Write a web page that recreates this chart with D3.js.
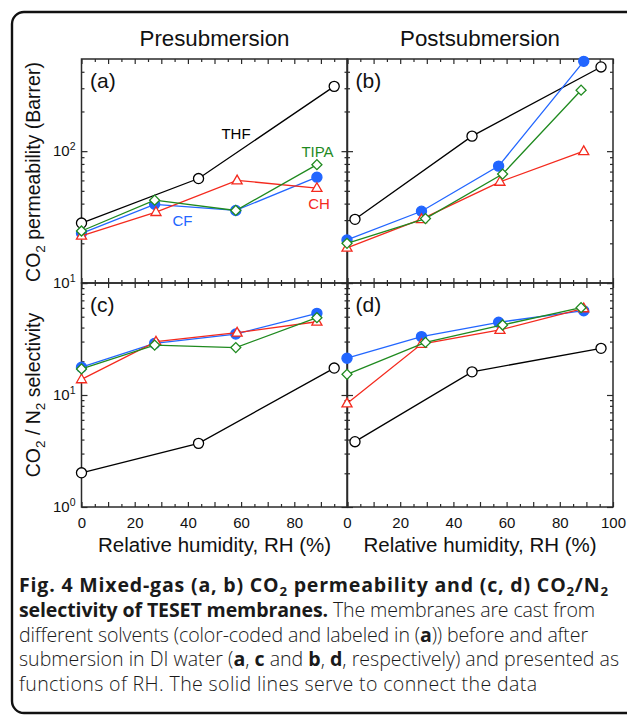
<!DOCTYPE html>
<html><head><meta charset="utf-8">
<script src="https://cdn.jsdelivr.net/npm/d3@7"></script>
<style>body{margin:0;background:#fff;} svg{display:block;}</style>
</head><body>
<svg id="c" width="627" height="715"></svg>
<script>
// ---------------- DATA ----------------
const solvents = ["THF", "CF", "CH", "TIPA"];
const panelTitles = ["Presubmersion", "Postsubmersion"];
const panelLetters = ["(a)", "(b)", "(c)", "(d)"];

// relative humidity (%) for each series
const preRH_THF  = [0, 44, 95];
const preRH_CF   = [0, 27.5, 58, 88.5];
const preRH_CH   = [0, 28, 58.5, 88.5];
const preRH_TIPA = [0, 27.5, 58, 88.5];
const postRH_THF  = [3, 47, 95.5];
const postRH_CF   = [0, 28, 57, 89];
const postRH_CH   = [0, 28, 57.5, 89];
const postRH_TIPA = [0, 29.5, 58.5, 88];

// (a) CO2 permeability, presubmersion (Barrer)
const permPre_THF  = [28.5, 62, 310];
const permPre_CF   = [23.8, 39.5, 35.5, 63.5];
const permPre_CH   = [22.8, 34.5, 60, 52.5];
const permPre_TIPA = [24.8, 42.5, 35.5, 79];
// (b) CO2 permeability, postsubmersion (Barrer)
const permPost_THF  = [30.4, 130, 435];
const permPost_CF   = [21.2, 35, 77, 480];
const permPost_CH   = [18.5, 30.5, 58.5, 100];
const permPost_TIPA = [20, 30.8, 67, 290];
// (c) CO2/N2 selectivity, presubmersion
const selPre_THF  = [2.02, 3.7, 17.4];
const selPre_CF   = [17.7, 28.9, 35, 53.6];
const selPre_CH   = [13.8, 29.9, 36, 45.1];
const selPre_TIPA = [17.1, 27.9, 26.5, 49];
// (d) CO2/N2 selectivity, postsubmersion
const selPost_THF  = [3.83, 16.1, 26.1];
const selPost_CF   = [21.3, 33.2, 44.6, 56.6];
const selPost_CH   = [8.4, 28.5, 38.1, 59.4];
const selPost_TIPA = [15.3, 29.5, 42.2, 60.2];

// tick labels
const xTickLabelsLeft  = [0, 20, 40, 60, 80];
const xTickLabelsRight = [0, 20, 40, 60, 80, 100];
const yTickExpTop = [1, 2];
const yTickExpBottom = [0, 1];

// ---------------- STYLE / LAYOUT ----------------
const colors = {THF: "#000000", CF: "#2266ff", CH: "#f42a1e", TIPA: "#1f8a1f"};
const chartFont = "'Liberation Sans', Arial, Helvetica, sans-serif";
const axisColor = "#2a2a2a";

const svg = d3.select("#c");

// outer rounded frame
svg.append("rect").attr("x", 12).attr("y", 12).attr("width", 640).attr("height", 701)
  .attr("rx", 12).attr("fill", "none").attr("stroke", "#111").attr("stroke-width", 2.4);

const xLeft  = d3.scaleLinear().domain([0, 100]).range([81.5, 347.5]);
const xRight = d3.scaleLinear().domain([0, 100]).range([347, 613]);
const yTop = d3.scaleLog().domain([10, 500]).range([283, 59]);
const yBot = d3.scaleLog().domain([1, 100]).range([507, 283]);

function seriesFor(rh, vals) { return rh.map((r, i) => ({rh: r, v: vals[i]})); }

const panels = [
  {x: xLeft, y: yTop, letter: panelLetters[0], series: {
    THF: seriesFor(preRH_THF, permPre_THF), CF: seriesFor(preRH_CF, permPre_CF),
    CH: seriesFor(preRH_CH, permPre_CH), TIPA: seriesFor(preRH_TIPA, permPre_TIPA)}},
  {x: xRight, y: yTop, letter: panelLetters[1], series: {
    THF: seriesFor(postRH_THF, permPost_THF), CF: seriesFor(postRH_CF, permPost_CF),
    CH: seriesFor(postRH_CH, permPost_CH), TIPA: seriesFor(postRH_TIPA, permPost_TIPA)}},
  {x: xLeft, y: yBot, letter: panelLetters[2], xLabels: xTickLabelsLeft, series: {
    THF: seriesFor(preRH_THF, selPre_THF), CF: seriesFor(preRH_CF, selPre_CF),
    CH: seriesFor(preRH_CH, selPre_CH), TIPA: seriesFor(preRH_TIPA, selPre_TIPA)}},
  {x: xRight, y: yBot, letter: panelLetters[3], xLabels: xTickLabelsRight, series: {
    THF: seriesFor(postRH_THF, selPost_THF), CF: seriesFor(postRH_CF, selPost_CF),
    CH: seriesFor(postRH_CH, selPost_CH), TIPA: seriesFor(postRH_TIPA, selPost_TIPA)}},
];

function minorLogTicks(y) {
  const [a, b] = y.domain();
  const out = [];
  for (let e = Math.floor(Math.log10(a)); e <= Math.ceil(Math.log10(b)); e++) {
    for (let m = 2; m <= 9; m++) { const v = m * Math.pow(10, e); if (v > a && v < b) out.push(v); }
  }
  return out;
}
function majorLogTicks(y) {
  const [a, b] = y.domain();
  const out = [];
  for (let e = Math.ceil(Math.log10(a)); Math.pow(10, e) <= b; e++) out.push(Math.pow(10, e));
  return out;
}

function styleAxis(g) {
  g.select(".domain").remove();
  g.selectAll(".tick line").attr("stroke", axisColor).attr("stroke-width", 1.2);
}

panels.forEach(p => {
  const g = svg.append("g");
  const [x0, x1] = p.x.range();
  const [yb, yt] = p.y.range();
  const majX = d3.range(0, 101, 10), minX = d3.range(5, 100, 10);
  const majY = majorLogTicks(p.y), minY = minorLogTicks(p.y);

  // ticks (all pointing inward)
  g.append("g").attr("transform", `translate(0,${yb})`).call(d3.axisBottom(p.x).tickValues(majX).tickSize(-5).tickFormat("")).call(styleAxis);
  g.append("g").attr("transform", `translate(0,${yb})`).call(d3.axisBottom(p.x).tickValues(minX).tickSize(-3).tickFormat("")).call(styleAxis);
  g.append("g").attr("transform", `translate(0,${yt})`).call(d3.axisTop(p.x).tickValues(majX).tickSize(-5).tickFormat("")).call(styleAxis);
  g.append("g").attr("transform", `translate(0,${yt})`).call(d3.axisTop(p.x).tickValues(minX).tickSize(-3).tickFormat("")).call(styleAxis);
  g.append("g").attr("transform", `translate(${x0},0)`).call(d3.axisLeft(p.y).tickValues(majY).tickSize(-6).tickFormat("")).call(styleAxis);
  g.append("g").attr("transform", `translate(${x0},0)`).call(d3.axisLeft(p.y).tickValues(minY).tickSize(-3).tickFormat("")).call(styleAxis);
  g.append("g").attr("transform", `translate(${x1},0)`).call(d3.axisRight(p.y).tickValues(majY).tickSize(-6).tickFormat("")).call(styleAxis);
  g.append("g").attr("transform", `translate(${x1},0)`).call(d3.axisRight(p.y).tickValues(minY).tickSize(-3).tickFormat("")).call(styleAxis);

  // frame
  g.append("rect").attr("x", x0).attr("y", yt).attr("width", x1 - x0).attr("height", yb - yt)
    .attr("fill", "none").attr("stroke", axisColor).attr("stroke-width", 1.5);

  // x tick labels
  if (p.xLabels) {
    g.append("g").attr("transform", `translate(0,${yb})`)
      .call(d3.axisBottom(p.x).tickValues(p.xLabels).tickSize(0).tickPadding(10.5))
      .call(a => { a.select(".domain").remove(); a.selectAll("text").attr("font-family", chartFont).attr("font-size", 15).attr("fill", "#111"); });
  }

  // panel letter
  g.append("text").attr("x", x0 + 8.5).attr("y", yt + 29).attr("font-family", chartFont)
    .attr("font-size", 21).attr("fill", "#111").text(p.letter);

  // series
  const line = d3.line().x(d => p.x(d.rh)).y(d => p.y(d.v));
  ["THF", "CF", "CH", "TIPA"].forEach(s => {
    const data = p.series[s];
    const c = colors[s];
    g.append("path").datum(data).attr("d", line).attr("fill", "none").attr("stroke", c).attr("stroke-width", 1.3);
    const mk = g.selectAll(null).data(data).enter().append("path")
      .attr("stroke", c).attr("stroke-width", 1.3);
    if (s === "THF") mk.attr("d", d3.symbol(d3.symbolCircle, 80)()).attr("fill", "#fff")
      .attr("transform", d => `translate(${p.x(d.rh)},${p.y(d.v)})`);
    if (s === "CF") mk.attr("d", d3.symbol(d3.symbolCircle, 80)()).attr("fill", c)
      .attr("transform", d => `translate(${p.x(d.rh)},${p.y(d.v)})`);
    if (s === "CH") mk.attr("d", d3.symbol(d3.symbolTriangle, 44)()).attr("fill", "#fff")
      .attr("transform", d => `translate(${p.x(d.rh)},${p.y(d.v) + 0.5})`);
    if (s === "TIPA") mk.attr("d", d3.symbol(d3.symbolSquare, 50)()).attr("fill", "#fff")
      .attr("transform", d => `translate(${p.x(d.rh)},${p.y(d.v)}) rotate(45)`);
  });
});

// y tick labels (10^n) on left panels
function yLabel(y, exps) {
  exps.forEach(e => {
    const t = svg.append("text").attr("x", 75.5).attr("y", y(Math.pow(10, e)) + 5.3)
      .attr("text-anchor", "end").attr("font-family", chartFont).attr("font-size", 15).attr("fill", "#111");
    t.append("tspan").text("10");
    t.append("tspan").attr("font-size", 10.5).attr("dy", -6.5).text(e);
  });
}
yLabel(yTop, yTickExpTop);
yLabel(yBot, yTickExpBottom);

// titles
[xLeft, xRight].forEach((x, i) => {
  const cx = (x.range()[0] + x.range()[1]) / 2;
  svg.append("text").attr("x", cx).attr("y", 45.5).attr("text-anchor", "middle")
    .attr("font-family", chartFont).attr("font-size", 22.3).attr("fill", "#111").text(panelTitles[i]);
  svg.append("text").attr("x", cx).attr("y", 552).attr("text-anchor", "middle")
    .attr("font-family", chartFont).attr("font-size", 20.5).attr("fill", "#111").text("Relative humidity, RH (%)");
});

// y axis titles
function rotLabel(cy, parts) {
  const t = svg.append("text").attr("transform", `translate(40,${cy}) rotate(-90)`).attr("text-anchor", "middle")
    .attr("font-family", chartFont).attr("font-size", 19.5).attr("fill", "#111");
  parts.forEach(([txt, sub]) => {
    const s = t.append("tspan").text(txt);
    if (sub) s.attr("font-size", 13.5).attr("baseline-shift", -5);
  });
}
rotLabel(172, [["CO"], ["2", true], [" permeability (Barrer)"]]);
rotLabel(395, [["CO"], ["2", true], [" / N"], ["2", true], [" selectivity"]]);

// series labels in panel (a)
const labelPos = [
  {s: "THF", x: 236, y: 138.5}, {s: "TIPA", x: 317.5, y: 157},
  {s: "CF", x: 182.5, y: 226}, {s: "CH", x: 319, y: 208.5}
];
labelPos.forEach(l => svg.append("text").attr("x", l.x).attr("y", l.y).attr("text-anchor", "middle")
  .attr("font-family", chartFont).attr("font-size", 15).attr("fill", colors[l.s]).text(l.s));

// caption
const capFont = "'Open Sans', 'Noto Sans', sans-serif";
const capLines = [
  [["Fig. 4 Mixed-gas (a, b) CO", "b"], ["2", "bs"], [" permeability and (c, d) CO", "b"], ["2", "bs"], ["/N", "b"], ["2", "bs"]],
  [["selectivity of TESET membranes.", "b"], [" The membranes are cast from", "n"]],
  [["different solvents (color-coded and labeled in (", "n"], ["a", "b"], [")) before and after", "n"]],
  [["submersion in DI water (", "n"], ["a", "b"], [", ", "n"], ["c", "b"], [", ", "n"].slice(0,0).length ? [] : [" and ", "n"], ["b", "b"], [", ", "n"], ["d", "b"], [", respectively) and presented as", "n"]],
  [["functions of RH. The solid lines serve to connect the data", "n"]]
];
const capBase = [592, 617, 642, 666, 691];
const capRight = [608, 595, 588, 619, 537];
const capTexts = capLines.map((parts, i) => {
  const t = svg.append("text").attr("x", 19).attr("y", capBase[i]).attr("font-family", capFont)
    .attr("font-size", 17).attr("fill", "#1a1a1a");
  parts.forEach(([txt, st]) => {
    const s = t.append("tspan").text(txt);
    if (st[0] === "b") s.attr("font-weight", "bold");
    else s.attr("font-weight", 300);
    if (st === "bs") s.attr("font-size", 11.5).attr("baseline-shift", -3.5);
  });
  return t;
});
// fit caption size so line 4 spans the box width like the original
const w4 = capTexts[3].node().getComputedTextLength();
const k = 600 / w4;
capTexts.forEach((t, i) => {
  t.attr("font-size", 17 * k);
  t.selectAll("tspan").filter(function(){ return d3.select(this).attr("font-size"); })
    .attr("font-size", 11.5 * k);
  t.attr("textLength", capRight[i] - 19).attr("lengthAdjust", "spacing");
});
</script>
</body></html>
